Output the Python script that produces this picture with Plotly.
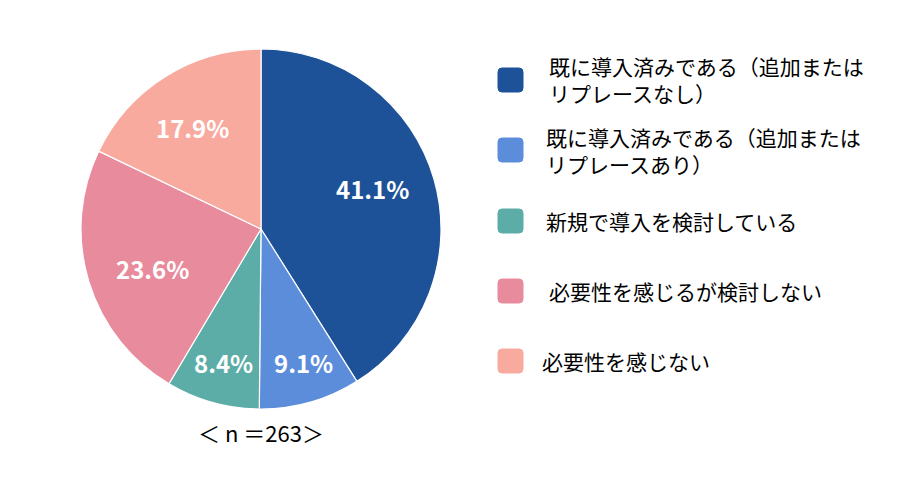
import math
import plotly.graph_objects as go

# データ
labels = [
    "既に導入済みである（追加または<br>リプレースなし）",
    "既に導入済みである（追加または<br>リプレースあり）",
    "新規で導入を検討している",
    "必要性を感じるが検討しない",
    "必要性を感じない",
]
values = [41.1, 9.1, 8.4, 23.6, 17.9]
colors = ["#1D5299", "#5B8DDA", "#5CADA7", "#E88B9D", "#F9AA9F"]
n_label = "＜ n ＝263＞"

# ページのbody余白(8px)を差し引いたサイズ
OFF = 8
W, H = 900 - 2 * OFF, 503 - 2 * OFF
FONT = "Noto Sans CJK JP"


def px_x(x):
    return (x - OFF) / W


def px_y(y):
    return 1 - (y - OFF) / H


def rounded_rect(x0, y0, x1, y1, r):
    # paper座標で角丸の四角
    X, Y = px_x, px_y
    return (
        f"M {X(x0 + r)} {Y(y0)} L {X(x1 - r)} {Y(y0)} "
        f"Q {X(x1)} {Y(y0)} {X(x1)} {Y(y0 + r)} L {X(x1)} {Y(y1 - r)} "
        f"Q {X(x1)} {Y(y1)} {X(x1 - r)} {Y(y1)} L {X(x0 + r)} {Y(y1)} "
        f"Q {X(x0)} {Y(y1)} {X(x0)} {Y(y1 - r)} L {X(x0)} {Y(y0 + r)} "
        f"Q {X(x0)} {Y(y0)} {X(x0 + r)} {Y(y0)} Z"
    )


cx, cy, rad = 261, 229, 180

fig = go.Figure(go.Pie(
    labels=labels,
    values=values,
    sort=False,
    direction="clockwise",
    rotation=0,
    marker=dict(colors=colors, line=dict(color="white", width=1.2)),
    textinfo="none",
    domain=dict(x=[px_x(cx - rad), px_x(cx + rad)], y=[px_y(cy + rad), px_y(cy - rad)]),
    showlegend=False,
    hoverinfo="label+percent",
))

annotations = []

# データラベル（各扇形の中央角付近に配置）
label_r = [0.66, 0.78, 0.77, 0.64, 0.68]
label_da = [-4, -2, 0, -3, -2]  # 角度の微調整(度)
total = sum(values)
cum = 0
for v, fr, da in zip(values, label_r, label_da):
    mid = (cum + v / 2) / total * 2 * math.pi + math.radians(da)
    cum += v
    lx = cx + rad * fr * math.sin(mid)
    ly = cy - rad * fr * math.cos(mid)
    annotations.append(dict(
        x=px_x(lx), y=px_y(ly), xref="paper", yref="paper",
        xanchor="center", yanchor="middle",
        text=f"{v:.1f}%", showarrow=False,
        font=dict(family=FONT, size=24, color="white", weight="bold"),
    ))

# 凡例（手書き）
shapes = []
legend_y = [80, 150, 221, 291, 361]
text_x = [547, 544, 544, 547, 540]
for i, (lab, col) in enumerate(zip(labels, colors)):
    yc = legend_y[i]
    shapes.append(dict(
        type="path", xref="paper", yref="paper",
        path=rounded_rect(498, yc - 12, 523, yc + 12, 4),
        fillcolor=col, line=dict(color=col, width=1),
    ))
    annotations.append(dict(
        x=px_x(text_x[i]), y=px_y(yc), xref="paper", yref="paper",
        xanchor="left", yanchor="middle", align="left",
        text=lab, showarrow=False,
        font=dict(family=FONT, size=21, color="black"),
    ))

annotations.append(dict(
    x=px_x(cx), y=px_y(432), xref="paper", yref="paper",
    xanchor="center", yanchor="middle",
    text=n_label, showarrow=False,
    font=dict(family=FONT, size=22, color="black"),
))

fig.update_layout(
    width=W, height=H,
    margin=dict(l=0, r=0, t=0, b=0),
    paper_bgcolor="white",
    plot_bgcolor="white",
    shapes=shapes,
    annotations=annotations,
)

fig.write_html("out.html")
